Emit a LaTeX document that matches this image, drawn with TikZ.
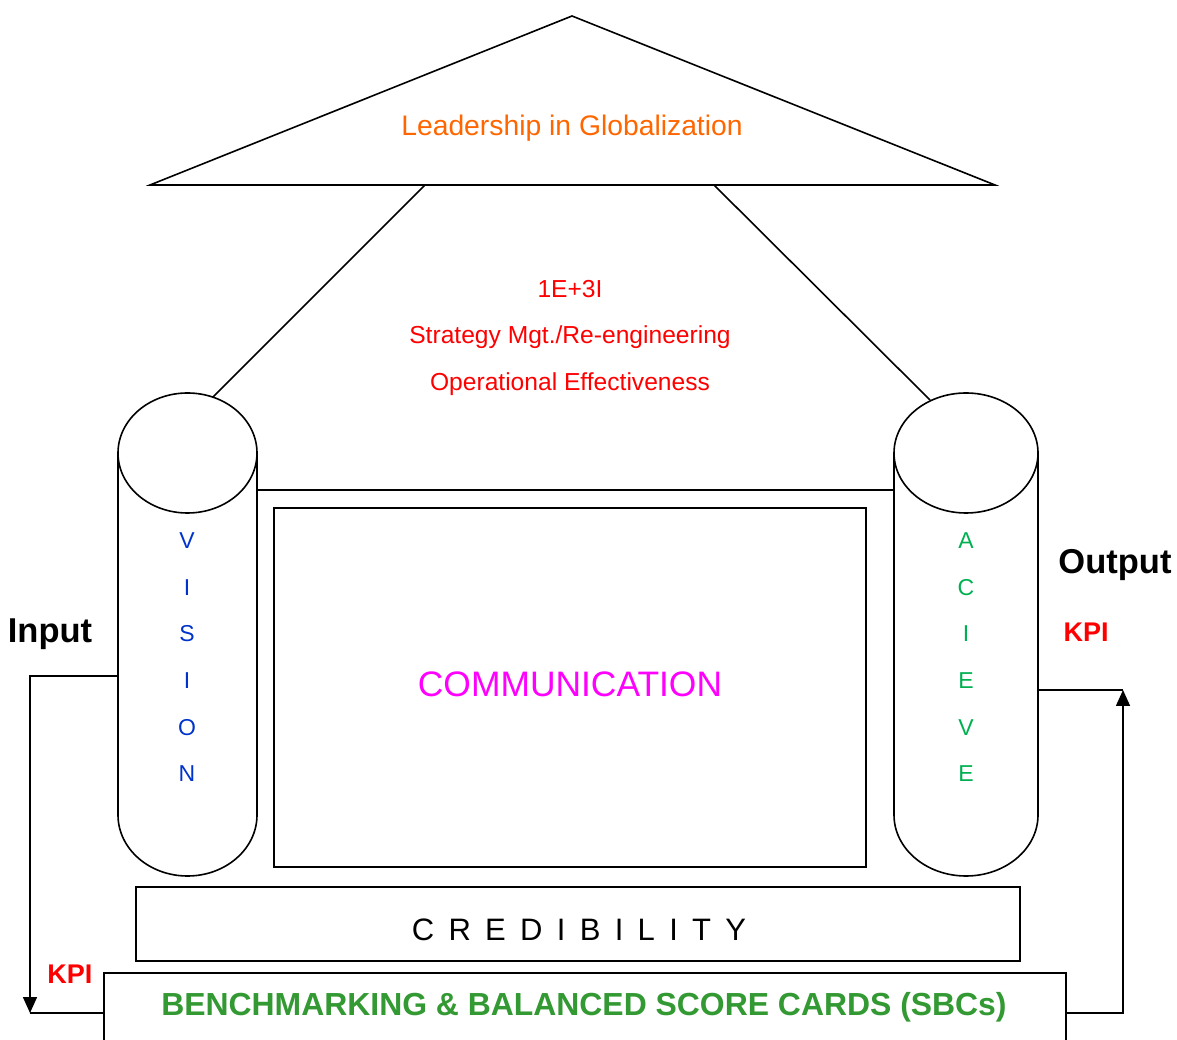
\documentclass[tikz,border=0pt]{standalone}
\usepackage{fontspec}
\setmainfont{Liberation Sans}
\usetikzlibrary{arrows.meta}
\definecolor{lorange}{RGB}{255,102,0}
\definecolor{lred}{RGB}{255,0,0}
\definecolor{lblue}{RGB}{0,51,204}
\definecolor{lgreen}{RGB}{0,176,80}
\definecolor{lmag}{RGB}{255,0,255}
\definecolor{bgreen}{RGB}{51,153,51}
\newcommand{\fsz}[1]{\fontsize{#1}{#1}\selectfont}
\begin{document}
\begin{tikzpicture}[x=1pt,y=1pt,
  ln/.style={line width=1.6pt,black},
  arr/.style={ln,-{Triangle[length=16pt,width=14pt]}},
  txt/.style={inner sep=0pt,anchor=center},
  letv/.style={txt,text=lblue,font=\fsz{23}},
  leta/.style={txt,text=lgreen,font=\fsz{23}},
  redtxt/.style={txt,text=lred,font=\fsz{24.6}},
  bigbold/.style={txt,font=\fsz{34.5}\bfseries},
  kpi/.style={txt,text=lred,font=\fsz{27}\bfseries}]
\useasboundingbox (0,0) rectangle (1177,1039);
% roof
\draw[ln,line join=miter] (572,1023) coordinate (apex) -- (995,854) coordinate (rbase) -- (150,854) coordinate (lbase) -- cycle;
\coordinate (roofL) at (425,854);
\coordinate (roofR) at (714,854);
\node[txt,text=lorange,font=\fsz{28.3}] (lead) at (572,911) {Leadership in Globalization};
% left pillar
\coordinate (lcyl) at (187.5,586);
\draw[ln] (118,586) -- (118,224) arc[start angle=180,end angle=360,x radius=69.5,y radius=61] -- (257,586);
\draw[ln,fill=white] (lcyl) ellipse[x radius=69.5,y radius=60];
\coordinate (lcylL) at (118,363);
\coordinate (lcylTop) at (213,642);
% right pillar
\coordinate (rcyl) at (966,586);
\draw[ln] (894,586) -- (894,224) arc[start angle=180,end angle=360,x radius=72,y radius=61] -- (1038,586);
\draw[ln,fill=white] (rcyl) ellipse[x radius=72,y radius=60];
\coordinate (rcylR) at (1038,349);
\coordinate (rcylTop) at (930,639);
% roof supports
\draw[ln] (roofL) -- (lcylTop);
\draw[ln] (roofR) -- (rcylTop);
% beam
\coordinate (beamL) at (257,549);
\coordinate (beamR) at (894,549);
\draw[ln] (beamL) -- (beamR);
% middle texts
\node[redtxt] (t1) at (570,750) {1E+3I};
\node[redtxt] (t2) at (570,702) {Strategy Mgt./Re-engineering};
\node[redtxt] (t3) at (570,655) {Operational Effectiveness};
% vision letters
\node[letv] (v1) at (187,498) {V};
\node[letv] (v2) at (187,451) {I};
\node[letv] (v3) at (187,405) {S};
\node[letv] (v4) at (187,358) {I};
\node[letv] (v5) at (187,311) {O};
\node[letv] (v6) at (187,265) {N};
% achieve letters
\node[leta] (a1) at (966,498) {A};
\node[leta] (a2) at (966,451) {C};
\node[leta] (a3) at (966,405) {I};
\node[leta] (a4) at (966,358) {E};
\node[leta] (a5) at (966,311) {V};
\node[leta] (a6) at (966,265) {E};
% communication
\draw[ln] (274,172) rectangle (866,531);
\node[txt,text=lmag,font=\fsz{35.4}] (comm) at (570,355) {COMMUNICATION};
% credibility
\draw[ln] (136,78) rectangle (1020,152);
\node[txt,font=\fsz{31}] (cred) at (579,109) {C\hspace{14.3pt}R\hspace{14.3pt}E\hspace{14.3pt}D\hspace{14.3pt}I\hspace{14.3pt}B\hspace{14.3pt}I\hspace{14.3pt}L\hspace{14.3pt}I\hspace{14.3pt}T\hspace{14.3pt}Y};
% benchmarking
\coordinate (benchL) at (104,26);
\coordinate (benchR) at (1066,26);
\draw[ln] (104,-5) -- (104,66) -- (1066,66) -- (1066,-5);
\node[txt,text=bgreen,font=\fsz{31.9}\bfseries] (bench) at (584,32) {BENCHMARKING \& BALANCED SCORE CARDS (SBCs)};
% input loop
\coordinate (inC) at (30,26);
\draw[arr] (lcylL) -- (30,363) -- (inC);
\draw[ln] (inC) -- (benchL);
% output loop
\coordinate (outC) at (1123,349);
\draw[arr] (benchR) -- (1123,26) -- (outC);
\draw[ln] (rcylR) -- (outC);
% labels
\node[bigbold] (inp) at (50,405) {Input};
\node[bigbold] (outp) at (1115,474) {Output};
\node[kpi] (kpiR) at (1086,407) {KPI};
\node[kpi] (kpiL) at (70,65) {KPI};
\end{tikzpicture}
\end{document}
